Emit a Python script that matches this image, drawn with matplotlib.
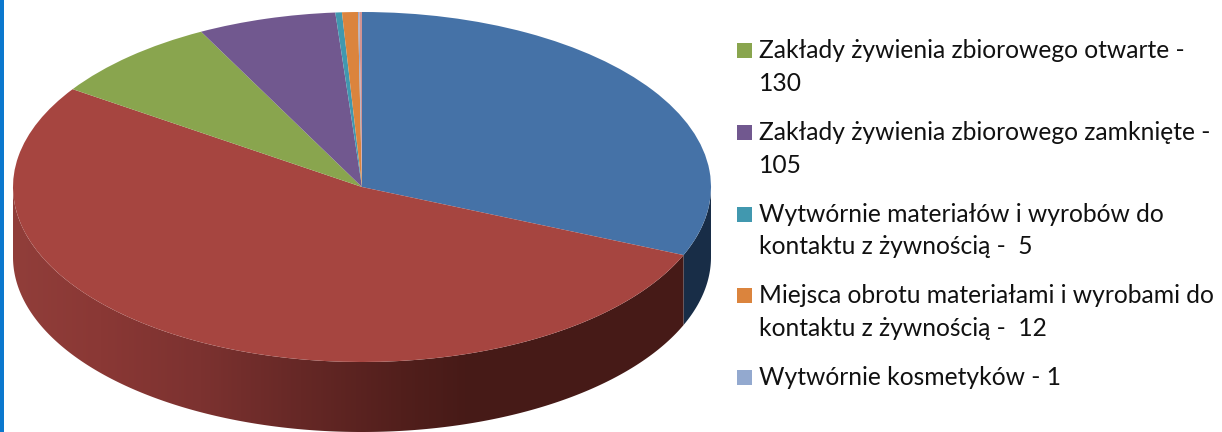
import matplotlib
matplotlib.use("Agg")
import matplotlib.pyplot as plt
import numpy as np
from matplotlib.colors import to_rgb
from matplotlib.patches import Polygon, Rectangle

W, H = 1222, 432

slice_values = [514, 870, 130, 105, 5, 12, 1, 2]
slice_colors = ["#4572A7", "#A64540", "#89A54E", "#71588F", "#4198AF", "#DB843D", "#93A9CF", "#D19392"]

legend_lines = [
    ["Zakłady żywienia zbiorowego otwarte -", "130"],
    ["Zakłady żywienia zbiorowego zamknięte -", "105"],
    ["Wytwórnie materiałów i wyrobów do", "kontaktu z żywnością -  5"],
    ["Miejsca obrotu materiałami i wyrobami do", "kontaktu z żywnością -  12"],
    ["Wytwórnie kosmetyków - 1"],
]
legend_colors = slice_colors[2:7]
legend_baselines = [[58, 91], [140, 173], [222, 254], [303, 336], [385]]

# pie geometry in pixels
CX, CY, RX, RY, DEPTH = 362, 187, 349, 175, 70

plt.rcParams["font.family"] = ["Lato", "DejaVu Sans"]

fig = plt.figure(figsize=(W / 100, H / 100), dpi=100, facecolor="white")
ax = fig.add_axes([(CX - RX) / W, 1 - (CY + RY + DEPTH) / H, 2 * RX / W, (2 * RY + DEPTH) / H])

wedges, _ = ax.pie(slice_values, colors=slice_colors, startangle=90, counterclock=False, radius=1,
                   wedgeprops={"linewidth": 0, "zorder": 3})
drop = DEPTH / RY
ax.set_aspect("auto")
ax.axis("off")

# side wall below the lower rim of each slice
wall_flat = {0: "#182D47"}
grad_px = [13, 100, 200, 300, 400, 470, 711]
grad_cols = np.array([to_rgb(c) for c in
                      ["#913E3A", "#8A3835", "#7C3230", "#662826", "#521F1C", "#461A17", "#461A17"]])
px = np.arange(CX - RX, CX + RX)
gradient = np.stack([np.interp(px, grad_px, grad_cols[:, k]) for k in range(3)], axis=1)[None, :, :]

angles = 90 - 360 * np.cumsum([0] + slice_values) / sum(slice_values)
for i in range(len(slice_values)):
    lo, hi = max(angles[i + 1], -180), min(angles[i], 0)
    if hi <= lo:
        continue
    t = np.radians(np.linspace(lo, hi, 300))
    xs, ys = np.cos(t), np.sin(t)
    pts = np.column_stack([np.r_[xs, xs[::-1]], np.r_[ys, ys[::-1] - drop]])
    if i in wall_flat:
        ax.add_patch(Polygon(pts, color=wall_flat[i], lw=0, zorder=2))
    else:
        im = ax.imshow(gradient, extent=(-1, 1, -1 - drop, 0), aspect="auto", zorder=2)
        im.set_clip_path(Polygon(pts, transform=ax.transData))
ax.set_xlim(-1, 1)
ax.set_ylim(-1 - drop, 1)

# legend in figure pixels
overlay = fig.add_axes([0, 0, 1, 1], facecolor="none")
overlay.set_xlim(0, W)
overlay.set_ylim(H, 0)
overlay.axis("off")
overlay.add_patch(Rectangle((0, 0), 4, H, color="#0B78CE", lw=0))

for lines, base, color in zip(legend_lines, legend_baselines, legend_colors):
    overlay.add_patch(Rectangle((737, base[0] - 15), 15, 15, color=color, lw=0))
    for text, y in zip(lines, base):
        overlay.text(759, y, text, fontsize=17.7, color="#111111", va="baseline", ha="left")

fig.savefig("out.png", dpi=100)
